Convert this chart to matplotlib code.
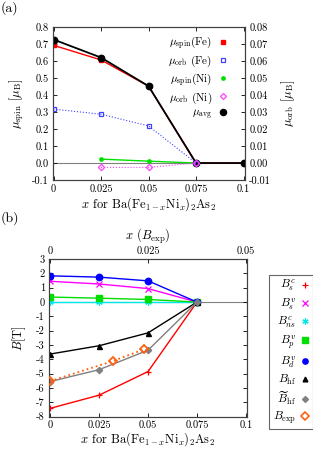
import matplotlib
matplotlib.use("Agg")
import matplotlib.pyplot as plt
from matplotlib.lines import Line2D

plt.rcParams['font.family'] = 'serif'
plt.rcParams['font.serif'] = ['cmr10', 'DejaVu Serif']
plt.rcParams['mathtext.fontset'] = 'cm'
plt.rcParams['axes.unicode_minus'] = False
plt.rcParams['axes.formatter.use_mathtext'] = True

# ---------------- data (a) ----------------
x_a = [0.0, 0.025, 0.05, 0.075, 0.1]
mu_spin_fe = [0.692, 0.606, 0.452, 0.0, 0.0]
x_orb_fe = [0.0, 0.025, 0.05, 0.075]
mu_orb_fe = [0.0317, 0.0287, 0.0218, 0.0]
x_ni = [0.025, 0.05, 0.075]
mu_spin_ni = [0.023, 0.011, 0.0]
mu_orb_ni = [-0.0026, -0.0026, 0.0]
mu_avg = [0.726, 0.620, 0.452, 0.0, 0.0]

# ---------------- data (b) ----------------
x_b = [0.0, 0.025, 0.05, 0.075]
B_s_c = [-7.42, -6.50, -4.85, 0.0]
B_s_v = [1.45, 1.26, 0.94, 0.0]
B_ns_c = [0.0, 0.0, 0.0, 0.0]
B_p_v = [0.35, 0.27, 0.18, 0.0]
B_d_v = [1.83, 1.74, 1.48, 0.0]
B_hf = [-3.63, -3.05, -2.15, 0.0]
B_hf_t = [-5.55, -4.72, -3.36, 0.0]
x_exp = [0.0, 0.016, 0.024]
B_exp = [-5.52, -4.12, -3.30]

xticks_a = [0, 0.025, 0.05, 0.075, 0.1]
xticklabels_a = ['0', '0.025', '0.05', '0.075', '0.1']
yticks_a = [-0.1, 0.0, 0.1, 0.2, 0.3, 0.4, 0.5, 0.6, 0.7, 0.8]
yticks_a2 = [-0.01, 0.0, 0.01, 0.02, 0.03, 0.04, 0.05, 0.06, 0.07, 0.08]
yticks_b = list(range(-8, 4))
xticks_top = [0, 0.025, 0.05]

fig = plt.figure(figsize=(3.13, 4.49), dpi=100)
fs = 7.5

# ---------------- panel (a) ----------------
ax = fig.add_axes([0.168, 0.599, 0.615, 0.341])
ax.set_xlim(-0.0005, 0.1008)
ax.set_ylim(-0.1, 0.8)
ax.axhline(0, color='#808080', lw=0.8, zorder=1)
ax2 = ax.twinx()
ax2.set_ylim(-0.01, 0.08)

ax.plot(x_a, mu_spin_fe, color='#ff0000', lw=1.0, marker='s', ms=3.0, zorder=3)
ax2.plot(x_orb_fe, mu_orb_fe, color='#4040ff', lw=0.8, ls=':', marker='s', ms=3.4,
         mfc='none', mew=0.9, zorder=3)
ax.plot(x_ni, mu_spin_ni, color='#00e000', lw=1.0, marker='o', ms=2.4, zorder=3)
ax2.plot(x_ni, mu_orb_ni, color='#ff40ff', lw=0.8, ls=':', marker='D', ms=3.2,
         mfc='none', mew=0.9, zorder=3)
ax.plot(x_a, mu_avg, color='black', lw=1.3, marker='o', ms=4.6, zorder=4)

ax.set_xticks(xticks_a)
ax.set_xticklabels(xticklabels_a)
ax.set_yticks(yticks_a)
ax.set_yticklabels(['%.1f' % v for v in yticks_a])
ax2.set_yticks(yticks_a2)
ax2.set_yticklabels(['%.2f' % v for v in yticks_a2])
ax.tick_params(direction='in', labelsize=fs, length=3, width=0.6, top=True, pad=3)
ax2.tick_params(direction='in', labelsize=fs, length=3, width=0.6, pad=3)
for a in (ax, ax2):
    for s in a.spines.values():
        s.set_linewidth(0.8)
        s.set_color('#404040')
ax.set_xlabel(r'$x$ for Ba(Fe$_{1-x}$Ni$_x$)$_2$As$_2$', fontsize=9, labelpad=1)
ax.set_ylabel(r'$\mu_{\rm spin}$ $[\mu_{\rm B}]$', fontsize=9, labelpad=4)
ax2.set_ylabel(r'$\mu_{\rm orb}$ $[\mu_{\rm B}]$', fontsize=9, labelpad=6)

handles_a = [
    Line2D([], [], ls='none', color='#ff0000', marker='s', ms=3.0),
    Line2D([], [], ls='none', color='#4040ff', marker='s', ms=3.2, mfc='none', mew=0.9),
    Line2D([], [], ls='none', color='#00e000', marker='o', ms=2.4),
    Line2D([], [], ls='none', color='#ff40ff', marker='D', ms=3.0, mfc='none', mew=0.9),
    Line2D([], [], ls='none', color='black', marker='o', ms=4.4),
]
labels_a = [r'$\mu_{\rm spin}$(Fe)', r'$\mu_{\rm orb}$ (Fe)', r'$\mu_{\rm spin}$(Ni)',
            r'$\mu_{\rm orb}$ (Ni)', r'$\mu_{\rm avg}$']
leg = ax2.legend(handles_a, labels_a, loc='upper right', bbox_to_anchor=(0.955, 1.0),
                 frameon=False, markerfirst=False, fontsize=8, handlelength=1.0,
                 handletextpad=0.5, labelspacing=0.2, borderpad=0.2)
fig.text(0.003, 0.983, '(a)', fontsize=10, ha='left', va='center')

# ---------------- panel (b) ----------------
bx = fig.add_axes([0.157, 0.072, 0.632, 0.351])
bx.set_xlim(-0.0005, 0.1005)
bx.set_ylim(-8, 3)
bx.axhline(0, color='#808080', lw=0.8, zorder=1)

st = dict(lw=1.0, zorder=3)
bx.plot(x_b, B_s_c, color='#ff0000', marker='+', ms=5, mew=0.9, **st)
bx.plot(x_b, B_s_v, color='#ff00ff', marker='x', ms=4.2, mew=0.9, **st)
bx.plot(x_b, B_ns_c, color='#00e8e8', marker=(6, 2, 0), ms=4.6, mew=0.9, **st)
bx.plot(x_b, B_p_v, color='#00dd00', marker='s', ms=4.0, **st)
bx.plot(x_b, B_d_v, color='#0000ff', marker='o', ms=4.6, **st)
bx.plot(x_b, B_hf, color='black', marker='^', ms=3.6, **st)
bx.plot(x_b, B_hf_t, color='#808080', marker='D', ms=3.2, **st)

bt = bx.twiny()
bt.set_xlim(-0.00025, 0.05025)
bt.plot(x_exp, B_exp, color='#ff6010', lw=1.3, ls=':', marker='D', ms=4.4,
        mfc='none', mew=1.3, zorder=4)
bt.set_xticks(xticks_top)
bt.set_xticklabels(['0', '0.025', '0.05'])
bt.tick_params(direction='in', labelsize=fs, length=3, width=0.6, pad=2)
bt.set_xlabel(r'$x$ $(B_{\rm exp})$', fontsize=9, labelpad=5)

bx.set_xticks(xticks_a)
bx.set_xticklabels(xticklabels_a)
bx.set_yticks(yticks_b)
bx.set_yticklabels([str(v) for v in yticks_b])
bx.tick_params(direction='in', labelsize=fs, length=3, width=0.6, right=True, pad=3)
for a in (bx, bt):
    for s in a.spines.values():
        s.set_linewidth(0.8)
        s.set_color('#404040')
bx.set_xlabel(r'$x$ for Ba(Fe$_{1-x}$Ni$_x$)$_2$As$_2$', fontsize=9, labelpad=0)
bx.set_ylabel(r'$B$[T]', fontsize=9, labelpad=6)

handles_b = [
    Line2D([], [], ls='none', color='#ff0000', marker='+', ms=4.5, mew=0.9),
    Line2D([], [], ls='none', color='#ff00ff', marker='x', ms=4.0, mew=0.9),
    Line2D([], [], ls='none', color='#00e8e8', marker=(6, 2, 0), ms=4.4, mew=0.9),
    Line2D([], [], ls='none', color='#00dd00', marker='s', ms=3.8),
    Line2D([], [], ls='none', color='#0000ff', marker='o', ms=3.8),
    Line2D([], [], ls='none', color='black', marker='^', ms=3.4),
    Line2D([], [], ls='none', color='#808080', marker='D', ms=3.0),
    Line2D([], [], ls='none', color='#ff6010', marker='D', ms=3.8, mfc='none', mew=1.2),
]
labels_b = [r'$B_s^c$', r'$B_s^v$', r'$B_{ns}^c$', r'$B_p^v$', r'$B_d^v$',
            r'$B_{\rm hf}$', r'$\widetilde{B}_{\rm hf}$', r'$B_{\rm exp}$']
legb = fig.legend(handles_b, labels_b, loc='upper left', bbox_to_anchor=(0.86, 0.388),
                  frameon=True, fancybox=False, markerfirst=False, fontsize=8.5,
                  handlelength=0.8, handletextpad=0.35, labelspacing=0.2,
                  borderpad=0.3, borderaxespad=0)
legb.get_frame().set_edgecolor('#404040')
legb.get_frame().set_linewidth(0.8)
fig.text(0.003, 0.515, '(b)', fontsize=10, ha='left', va='center')

fig.savefig('out.png', dpi=100)
